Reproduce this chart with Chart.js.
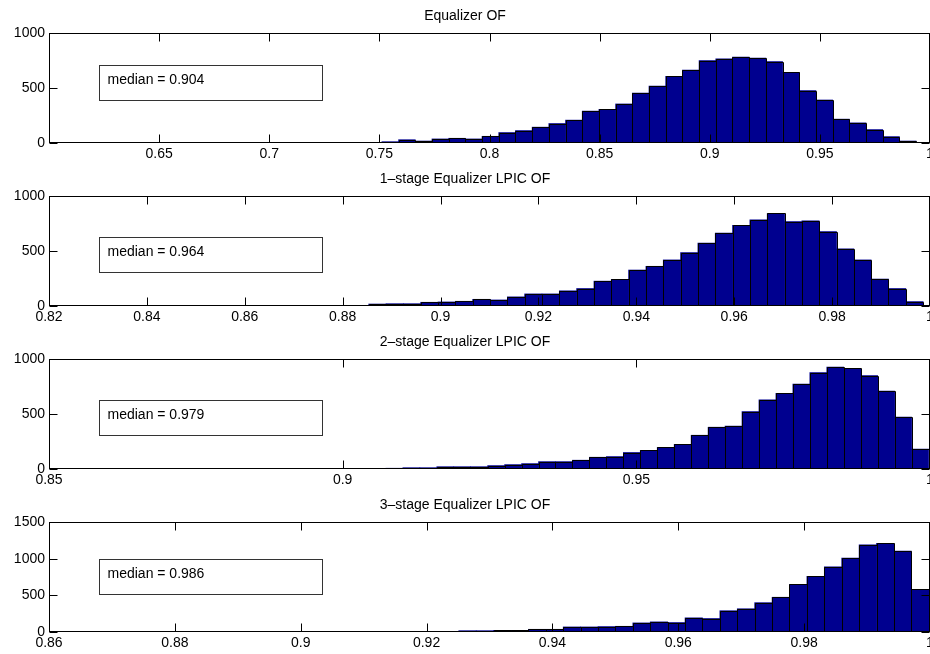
<!DOCTYPE html>
<html>
<head>
<meta charset="utf-8">
<script src="https://cdn.jsdelivr.net/npm/chart.js@4.4.1/dist/chart.umd.min.js"></script>
<style>
  body { margin: 0; background: #fff; }
  #fig { position: relative; width: 930px; height: 654px; background: #fff; }
  #fig canvas { position: absolute; left: 0; }
</style>
</head>
<body>
<div id="fig">
  <canvas id="hist1" width="930" height="163" style="top:0px"></canvas>
  <canvas id="hist2" width="930" height="163" style="top:163px"></canvas>
  <canvas id="hist3" width="930" height="163" style="top:326px"></canvas>
  <canvas id="hist4" width="930" height="165" style="top:489px"></canvas>
</div>
<script>
// panel titles and median labels
const panelTitles = ["Equalizer OF", "1\u2013stage Equalizer LPIC OF", "2\u2013stage Equalizer LPIC OF", "3\u2013stage Equalizer LPIC OF"];
const medianLabels = ["median = 0.904", "median = 0.964", "median = 0.979", "median = 0.986"];

// histogram bins (50 each): first bin edge and bin width
const binStarts = [0.6147, 0.8216, 0.8554, 0.8615];
const binWidths = [0.00758, 0.00354, 0.002887, 0.002766];

// counts per bin
const countsEq = [2,0,0,0,0,0,0,0,0,1,0,0,1,3,3,3,1,5,
  12,30,18,37,43,37,61,95,113,144,177,208,290,306,355,453,517,606,664,749,765,780,771,740,642,477,391,217,183,122,58,18];
const countsStage1 = [1,0,0,0,0,0,0,0,0,1,1,0,2,0,3,3,6,4,
  18,21,21,34,37,43,61,55,83,110,110,138,159,226,242,327,361,419,486,572,664,734,783,841,768,774,676,520,419,245,159,40];
const countsStage2 = [0,0,1,1,1,1,0,0,1,0,1,0,2,2,2,2,1,4,7,
  12,12,21,21,21,31,40,49,67,67,80,107,113,150,169,196,224,307,380,390,521,629,687,773,877,926,914,850,709,472,181];
const countsStage3 = [0,1,2,1,1,1,0,0,0,0,1,2,1,2,3,2,3,4,4,5,
  5,9,9,18,18,23,23,37,37,69,69,74,78,124,138,129,193,184,290,317,400,474,649,759,888,1008,1187,1210,1104,580];
const allCounts = [countsEq, countsStage1, countsStage2, countsStage3];

// axis ranges and tick steps
const xMins = [0.6, 0.82, 0.85, 0.86];
const xMax = 1;
const xSteps = [0.05, 0.02, 0.05, 0.02];
const yMaxes = [1000, 1000, 1000, 1500];
const yStep = 500;

// layout of the median text boxes (offset from top of plot area)
const boxTops = [32, 41, 41, 37];

const barColor = "#00008f";
const fontFamily = "'Liberation Sans', Arial, Helvetica, sans-serif";
const fontSize = 14;

// draws the matlab-like box with inward ticks, crisp bar edges and the median label box
const matlabFrame = {
    id: "matlabFrame",
    afterDatasetsDraw(chart, args, opts) {
        const ctx = chart.ctx;
        const a = chart.chartArea;
        const xs = chart.scales.x, ys = chart.scales.y;
        const L = Math.round(a.left) + 0.5, R = Math.round(a.right) - 0.5;
        const T = Math.round(a.top) + 0.5, B = Math.round(a.bottom) - 0.5;
        ctx.save();
        ctx.strokeStyle = "#000";
        ctx.lineWidth = 1;

        // bar outlines, snapped to whole pixels
        ctx.beginPath();
        chart.getDatasetMeta(0).data.forEach(function (bar) {
            const p = bar.getProps(["x", "y", "width", "base"], true);
            if (p.base - p.y < 0.5) return;
            const x0 = Math.round(p.x - p.width / 2) + 0.5;
            const x1 = Math.round(p.x + p.width / 2) + 0.5;
            const yt = Math.round(p.y) + 0.5;
            ctx.moveTo(x0, B); ctx.lineTo(x0, yt); ctx.lineTo(x1, yt); ctx.lineTo(x1, B);
        });
        ctx.stroke();

        ctx.strokeRect(L, T, R - L, B - T);
        ctx.beginPath();
        xs.ticks.forEach(function (t) {
            const px = Math.round(xs.getPixelForValue(t.value)) + 0.5;
            ctx.moveTo(px, B); ctx.lineTo(px, B - 8);
            ctx.moveTo(px, T); ctx.lineTo(px, T + 8);
        });
        ys.ticks.forEach(function (t) {
            const py = Math.round(ys.getPixelForValue(t.value)) + 0.5;
            ctx.moveTo(L, py); ctx.lineTo(L + 8, py);
            ctx.moveTo(R, py); ctx.lineTo(R - 8, py);
        });
        ctx.stroke();

        // median annotation
        const bx = L + 50, by = Math.round(a.top + opts.boxTop) + 0.5;
        ctx.fillStyle = "#fff";
        ctx.fillRect(bx, by, 223, 35);
        ctx.strokeStyle = "#333";
        ctx.strokeRect(bx, by, 223, 35);
        ctx.fillStyle = "#000";
        ctx.font = fontSize + "px " + fontFamily;
        ctx.textBaseline = "alphabetic";
        ctx.textAlign = "left";
        ctx.fillText(opts.label, bx + 8, by + 18);
        ctx.restore();
    }
};

function makeHistogram(n) {
    const counts = allCounts[n];
    const points = counts.map(function (c, i) {
        return { x: binStarts[n] + (i + 0.5) * binWidths[n], y: c };
    });
    const xMin = xMins[n];

    return new Chart(document.getElementById("hist" + (n + 1)), {
        type: "bar",
        data: {
            datasets: [{
                data: points,
                backgroundColor: barColor,
                borderWidth: 0,
                barPercentage: 1,
                categoryPercentage: 1
            }]
        },
        options: {
            responsive: false,
            devicePixelRatio: 1,
            animation: false,
            events: [],
            layout: { padding: { top: 0, left: 0, right: 0, bottom: n === 3 ? 2 : 0 } },
            plugins: {
                legend: { display: false },
                tooltip: { enabled: false },
                title: {
                    display: true,
                    text: panelTitles[n],
                    color: "#000",
                    font: { family: fontFamily, size: fontSize, weight: "normal" },
                    padding: { top: 7.6, bottom: 8.6 }
                },
                matlabFrame: { label: medianLabels[n], boxTop: boxTops[n] }
            },
            scales: {
                x: {
                    type: "linear",
                    offset: false,
                    min: xMin,
                    max: xMax,
                    grid: { display: false, drawTicks: false },
                    border: { display: false },
                    ticks: {
                        stepSize: xSteps[n],
                        autoSkip: false,
                        maxRotation: 0,
                        padding: 3,
                        color: "#000",
                        font: { family: fontFamily, size: fontSize },
                        callback: function (v) {
                            if (n === 0 && Math.abs(v - xMin) < 1e-9) return "";
                            return String(+v.toFixed(4));
                        }
                    },
                    afterFit: function (scale) {
                        scale.height = 20;
                        scale.paddingLeft = 0;
                        scale.paddingRight = 0;
                    }
                },
                y: {
                    min: 0,
                    max: yMaxes[n],
                    grid: { display: false, drawTicks: false },
                    border: { display: false },
                    ticks: {
                        stepSize: yStep,
                        padding: 4,
                        color: "#000",
                        font: { family: fontFamily, size: fontSize },
                        callback: function (v) { return String(v); }
                    },
                    afterFit: function (scale) {
                        scale.width = 49;
                    }
                }
            }
        },
        plugins: [matlabFrame]
    });
}

for (var i = 0; i < 4; i++) {
    makeHistogram(i);
}
</script>
</body>
</html>
